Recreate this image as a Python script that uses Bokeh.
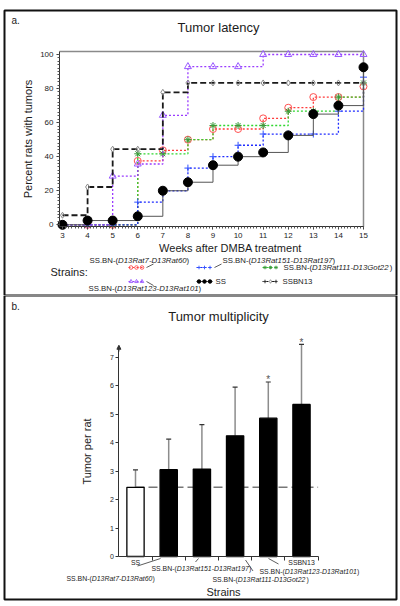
from bokeh.plotting import figure
from bokeh.layouts import column
from bokeh.models import (Label, Arrow, NormalHead, Range1d, BoxAnnotation,
                          FixedTicker, SingleIntervalTicker, ColumnDataSource)
from bokeh.embed import file_html
from bokeh.resources import INLINE
from bokeh.core.properties import value

FONT = "Liberation Sans"
TXT = "#1c1c1c"

# ---------------- data: panel a (tumor latency) ----------------
weeks = [3, 4, 5, 6, 7, 8, 9, 10, 11, 12, 13, 14, 15]
pct_rat7_rat60 = [0, 0, 0, 37.5, 43.75, 50, 56.25, 56.25, 62.5, 68.75, 75, 75, 81.25]
pct_rat151_rat197 = [0, 0, 0, 13.3, 20, 33.3, 40, 46.7, 53.3, 53.3, 53.3, 66.7, 86.7]
pct_rat111_got22 = [0, 0, 0, 41.7, 41.7, 50, 58.3, 58.3, 58.3, 66.7, 66.7, 75, 83.3]
pct_rat123_rat101 = [0, 0, 28.6, 35.7, 64.3, 92.9, 92.9, 92.9, 100, 100, 100, 100, 100]
pct_ss = [0, 2.5, 2.5, 5, 20, 25, 35, 40, 42.5, 52.5, 65, 70, 92.5]
pct_ssbn13 = [5.6, 22.2, 44.4, 44.4, 77.8, 83.3, 83.3, 83.3, 83.3, 83.3, 83.3, 83.3, 83.3]

interval_rat7 = "D13Rat7-D13Rat60"
interval_rat151 = "D13Rat151-D13Rat197"
interval_rat111 = "D13Rat111-D13Got22"
interval_rat123 = "D13Rat123-D13Rat101"

# ---------------- data: panel b (tumor multiplicity) ----------------
bar_strains = ["SS", "SS.BN-(D13Rat7-D13Rat60)", "SS.BN-(D13Rat151-D13Rat197)",
               "SS.BN-(D13Rat111-D13Got22)", "SS.BN-(D13Rat123-D13Rat101)", "SSBN13"]
tumor_mean = [2.43, 3.05, 3.07, 4.24, 4.86, 5.34]
tumor_upper = [3.04, 4.12, 4.63, 5.95, 6.13, 7.45]
tumor_signif = [False, False, False, False, True, True]
multiplicity_y_ticks = [0, 1, 2, 3, 4, 5, 6, 7]

# ---------------- helpers ----------------
CW = {' ': 278, '(': 333, ')': 333, '-': 333, '.': 278, ':': 278, 'A': 667, 'B': 667,
      'D': 722, 'G': 778, 'M': 833, 'N': 722, 'R': 722, 'S': 667, 'a': 556, 'o': 556, 't': 278}


def text_width(s, size):
    return sum(CW.get(c, 556) for c in s) * size / 1000.0


class Panel:
    """maps page pixels to the data space of a figure whose frame fills it"""
    def __init__(self, p, fx, fy):
        self.p, self.fx, self.fy = p, fx, fy

    def text(self, px, py, text, size, align="left", style="normal", color=TXT):
        self.p.add_layout(Label(x=self.fx(px), y=self.fy(py), text=text, text_font=FONT,
                                text_font_size=f"{size}px", text_font_style=style,
                                text_color=color, text_align=align, text_baseline="middle"))

    def strain(self, px, py, interval, size):
        x = px
        for t, st in [("SS.BN-(", "normal"), (interval, "italic"), (")", "normal")]:
            self.text(x, py, t, size, "left", st)
            x += text_width(t, size)

    def leader(self, x0, y0, x1, y1, color="#333"):
        self.p.add_layout(Arrow(end=None, x_start=self.fx(x0), y_start=self.fy(y0),
                                x_end=self.fx(x1), y_end=self.fy(y1),
                                line_color=color, line_width=0.8))

    def box(self, l, t, r, b):
        self.p.add_layout(BoxAnnotation(left=self.fx(l), right=self.fx(r), top=self.fy(t),
                                        bottom=self.fy(b), fill_alpha=0, line_color="#111",
                                        line_width=2, line_alpha=1))


def style_axis(ax, size):
    ax.axis_line_color = "#333"
    ax.axis_line_width = 1
    ax.major_tick_line_color = "#333"
    ax.major_tick_in = 0
    ax.major_tick_out = 3
    ax.minor_tick_line_color = "#555"
    ax.minor_tick_in = 0
    ax.minor_tick_out = 2
    ax.major_label_text_font = FONT
    ax.major_label_text_font_size = f"{size}px"
    ax.major_label_text_color = TXT
    ax.major_label_standoff = 3
    ax.axis_label_text_font = FONT
    ax.axis_label_text_font_style = "normal"
    ax.axis_label_text_font_size = "11px"
    ax.axis_label_text_color = TXT


W = 400
# ================= panel a =================
HA = 295


def a_x(px):
    return weeks[0] + (px - 62) / 25.083


def a_y(py):
    return (224.3 - py) / 1.703


pa = figure(width=W, height=HA, x_range=Range1d(a_x(0), a_x(W)), y_range=Range1d(a_y(HA), a_y(0)),
            output_backend="svg", toolbar_location=None,
            min_border_left=0, min_border_right=0, min_border_top=0, min_border_bottom=0,
            border_fill_color="white", background_fill_color="white", outline_line_color=None)
A = Panel(pa, a_x, a_y)
pa.grid.visible = False
pa.xaxis.ticker = SingleIntervalTicker(interval=1, num_minor_ticks=8)
pa.yaxis.ticker = SingleIntervalTicker(interval=20, num_minor_ticks=10)
x_left, y_bottom, y_top = a_x(59), a_y(226.3), a_y(51)
pa.xaxis.fixed_location = y_bottom
pa.yaxis.fixed_location = x_left
pa.xaxis.bounds = (x_left, weeks[-1])
pa.yaxis.bounds = (y_bottom, y_top)
style_axis(pa.xaxis[0], 8)
style_axis(pa.yaxis[0], 8)
pa.yaxis.axis_label = "Percent rats with tumors"
pa.yaxis.axis_label_standoff = 3

# grey frame (top and right)
pa.line(x=[x_left, weeks[-1], weeks[-1]], y=[y_top, y_top, y_bottom], line_color="#8a8a8a", line_width=1.5)

series = [
    ("rat7", pct_rat7_rat60, "#ff3b3b", "2 2", 1.3, "circle", dict(fill_color=None, line_color="#ff5050"), 7),
    ("rat111", pct_rat111_got22, "#2fd62f", "2 2", 1.3, "asterisk", dict(line_color="#3a9a3a"), 7),
    ("rat151", pct_rat151_rat197, "#1f2bff", "2 2", 1.3, "cross", dict(line_color="#3050ff"), 7),
    ("rat123", pct_rat123_rat101, "#9a3cff", "2 2", 1.3, "triangle", dict(fill_color=None, line_color="#9a5cff"), 7),
    ("ssbn13", pct_ssbn13, "#1a1a1a", "6 3", 1.8, "diamond", dict(fill_color=None, line_color="#888"), 6),
    ("ss", pct_ss, "#555555", "solid", 1.0, "circle", dict(fill_color="black", line_color="black"), 9),
]
legend_pos = {"rat7": (128, 267), "rat151": (196, 267), "rat111": (262, 267),
              "rat123": (128, 281), "ss": (196, 281), "ssbn13": (262, 281)}
for key, vals, col, dash, lw, mk, mstyle, ms in series:
    src = ColumnDataSource(dict(week=weeks, pct=vals))
    pa.step("week", "pct", source=src, mode="after", line_color=col, line_dash=dash, line_width=lw)
    pa.scatter("week", "pct", source=src, marker=mk, size=ms, line_width=1, **mstyle)
    # legend sample: short line with three small markers
    gx, gy = legend_pos[key]
    pa.line(x=[a_x(gx), a_x(gx + 16)], y=[a_y(gy)] * 2, line_color=col, line_dash=dash,
            line_width=1.0)
    pa.scatter(x=[a_x(gx + d) for d in (2.5, 8, 13.5)], y=[a_y(gy)] * 3, marker=mk,
               size=3.6, line_width=0.9, **mstyle)

A.box(4, 10, 396, HA)
A.text(11, 20, "a.", 10)
A.text(218, 27, "Tumor latency", 13, "center")
A.text(230, 247, "Weeks after DMBA treatment", 11, "center")
A.text(50, 271, "Strains:", 11)
LS = 7.8
A.strain(89, 260, interval_rat7, LS)
A.strain(222, 260, interval_rat151, LS)
A.strain(283, 267, interval_rat111, LS)
A.strain(88, 288, interval_rat123, LS)
A.text(215, 281, bar_strains[0], LS)
A.text(282, 281, bar_strains[5], LS)
A.leader(146, 267, 153, 263.5)
A.leader(214, 267, 221, 263.5)
A.leader(146, 281, 153, 285)

# ================= panel b =================
HB = 311
TOPB = HA
bar_x = [i + 1 for i in range(len(bar_strains))]


def b_x(px):
    return bar_x[0] + (px - 135) / 33.2


def b_y(py):
    return (556 - py) / 28.47


pb = figure(width=W, height=HB, x_range=Range1d(b_x(0), b_x(W)),
            y_range=Range1d(b_y(TOPB + HB), b_y(TOPB)),
            output_backend="svg", toolbar_location=None,
            min_border_left=0, min_border_right=0, min_border_top=0, min_border_bottom=0,
            border_fill_color="white", background_fill_color="white", outline_line_color=None)
B = Panel(pb, b_x, b_y)
pb.grid.visible = False

bar_fill = ["white" if s == "SS" else "black" for s in bar_strains]
x_lo, x_hi = bar_x[0] - 0.5, bar_x[-1] + 0.5

# dashed reference line at SS mean
pb.line(x=[bar_x[0], x_hi], y=[tumor_mean[0], tumor_mean[0]],
        line_color="#777", line_dash="9 4", line_width=1.4)
# error bars (upper)
pb.segment(x0=bar_x, y0=tumor_mean, x1=bar_x, y1=tumor_upper, line_color="#8c8c8c", line_width=1.5)
pb.scatter(x=bar_x, y=tumor_upper, marker="dash", size=5, line_color="#333", line_width=1.2)
pb.vbar(x=bar_x, top=tumor_mean, width=0.52, fill_color=bar_fill, line_color="black", line_width=1.3)
sig_x = [x for x, s in zip(bar_x, tumor_signif) if s]
sig_y = [y for y, s in zip(tumor_upper, tumor_signif) if s]
pb.text(x=sig_x, y=sig_y, text=["*"] * len(sig_x), text_font=value(FONT), text_font_size="10px",
        text_align="center", text_baseline="middle", y_offset=-2, text_color="#555")

bound_ticks = [x + 0.5 for x in bar_x]
pb.xaxis.ticker = FixedTicker(ticks=bound_ticks)
pb.yaxis.ticker = FixedTicker(ticks=multiplicity_y_ticks)
style_axis(pb.xaxis[0], 7)
style_axis(pb.yaxis[0], 7)
pb.xaxis.fixed_location = 0
pb.yaxis.fixed_location = x_lo
pb.xaxis.bounds = (x_lo, x_hi)
pb.yaxis.bounds = (0, 7.37)
pb.xaxis.major_tick_out = 4
pb.xaxis.major_label_overrides = {t: "" for t in bound_ticks}
pb.yaxis.major_label_standoff = 2
pb.yaxis.axis_label = "Tumor per rat"
pb.yaxis.axis_label_standoff = 14
pb.add_layout(Arrow(end=NormalHead(size=4, fill_color="#333", line_color="#333"),
                    x_start=x_lo, y_start=7.2, x_end=x_lo, y_end=7.42,
                    line_color="#333", line_width=1))

B.box(4, TOPB, 396, 599)
B.text(11, 306, "b.", 10)
B.text(218, 316, "Tumor multiplicity", 13, "center")
B.text(223, 591, "Strains", 11, "center")
BS = 6.9
for xi, name in [(bar_x[0], bar_strains[0]), (bar_x[5], bar_strains[5])]:
    pb.add_layout(Label(x=xi, y=b_y(562), text=name, text_font=FONT, text_font_size=f"{BS}px",
                        text_color=TXT, text_align="center", text_baseline="middle"))
B.strain(66, 577.5, interval_rat7, BS)
B.strain(151, 568, interval_rat151, BS)
B.strain(212, 578.5, interval_rat111, BS)
B.strain(259, 570.5, interval_rat123, BS)
B.leader(160, 558, 137, 565.5)
B.leader(198, 558, 195, 561.5)
B.leader(245, 559.5, 252.5, 570.5)
B.leader(268, 558, 278, 563.5)

layout = column(pa, pb, spacing=0)
open("out.html", "w").write(file_html(layout, INLINE))
